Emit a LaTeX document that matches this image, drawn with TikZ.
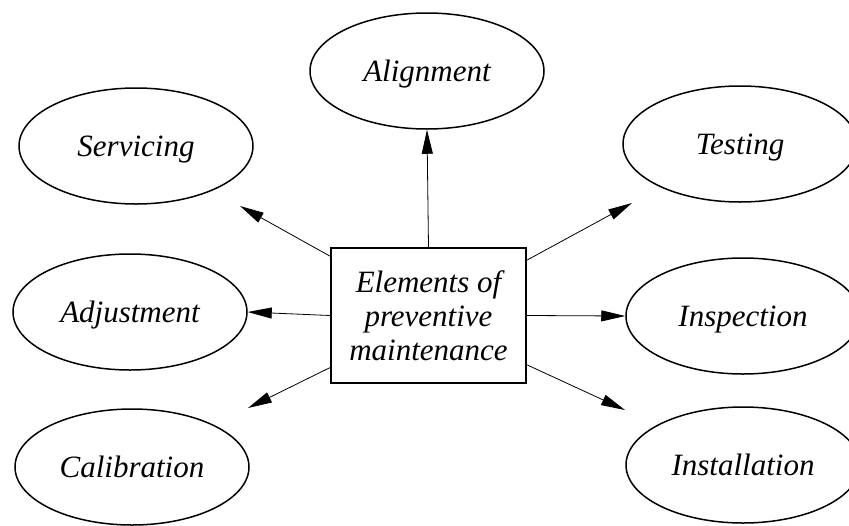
\documentclass[tikz,border=0pt]{standalone}
\usepackage{fontspec}
\setmainfont{Liberation Serif}
\usetikzlibrary{shapes.geometric,arrows.meta,calc}
\begin{document}
\begin{tikzpicture}[x=1pt,y=-1pt,
  element/.style={ellipse,draw,line width=1.5pt,minimum width=234pt,minimum height=116pt,inner sep=0pt,
    text depth=0pt,font=\fontsize{31}{32}\selectfont\itshape},
  centrebox/.style={rectangle,draw,line width=2.2pt,minimum width=195pt,minimum height=135pt,inner sep=0pt,
    align=center,font=\fontsize{31}{34}\selectfont\itshape},
  link/.style={line width=0.8pt,-{Triangle[length=24pt,width=11pt]}}]
\useasboundingbox (0,0) rectangle (849,525);

\node[centrebox] (core) at (428.5,315.5) {Elements of\\preventive\\maintenance};

\node[element] (align) at (427,71)  {Alignment};
\node[element] (serv)  at (136,146) {Servicing};
\node[element] (test)  at (740,144) {Testing};
\node[element] (adj)   at (130,312) {Adjustment};
\node[element] (insp)  at (743,316) {Inspection};
\node[element] (cal)   at (132,467) {Calibration};
\node[element] (inst)  at (743,465) {Installation};

% free arrow tips short of the diagonal ellipses
\coordinate (servtip) at (240,206);
\coordinate (testtip) at (632,203);
\coordinate (caltip)  at (248,408);
\coordinate (insttip) at (625,410);

\draw[link] (core.north) -- (align.south);
\draw[link] (core.west) -- (adj.east);
\draw[link] (core.east) -- (insp.west);
\draw[link] ($(core.north west)!0.067!(core.south west)$) -- (servtip);
\draw[link] ($(core.north east)!0.096!(core.south east)$) -- (testtip);
\draw[link] ($(core.north west)!0.88!(core.south west)$) -- (caltip);
\draw[link] ($(core.north east)!0.86!(core.south east)$) -- (insttip);
\end{tikzpicture}
\end{document}
